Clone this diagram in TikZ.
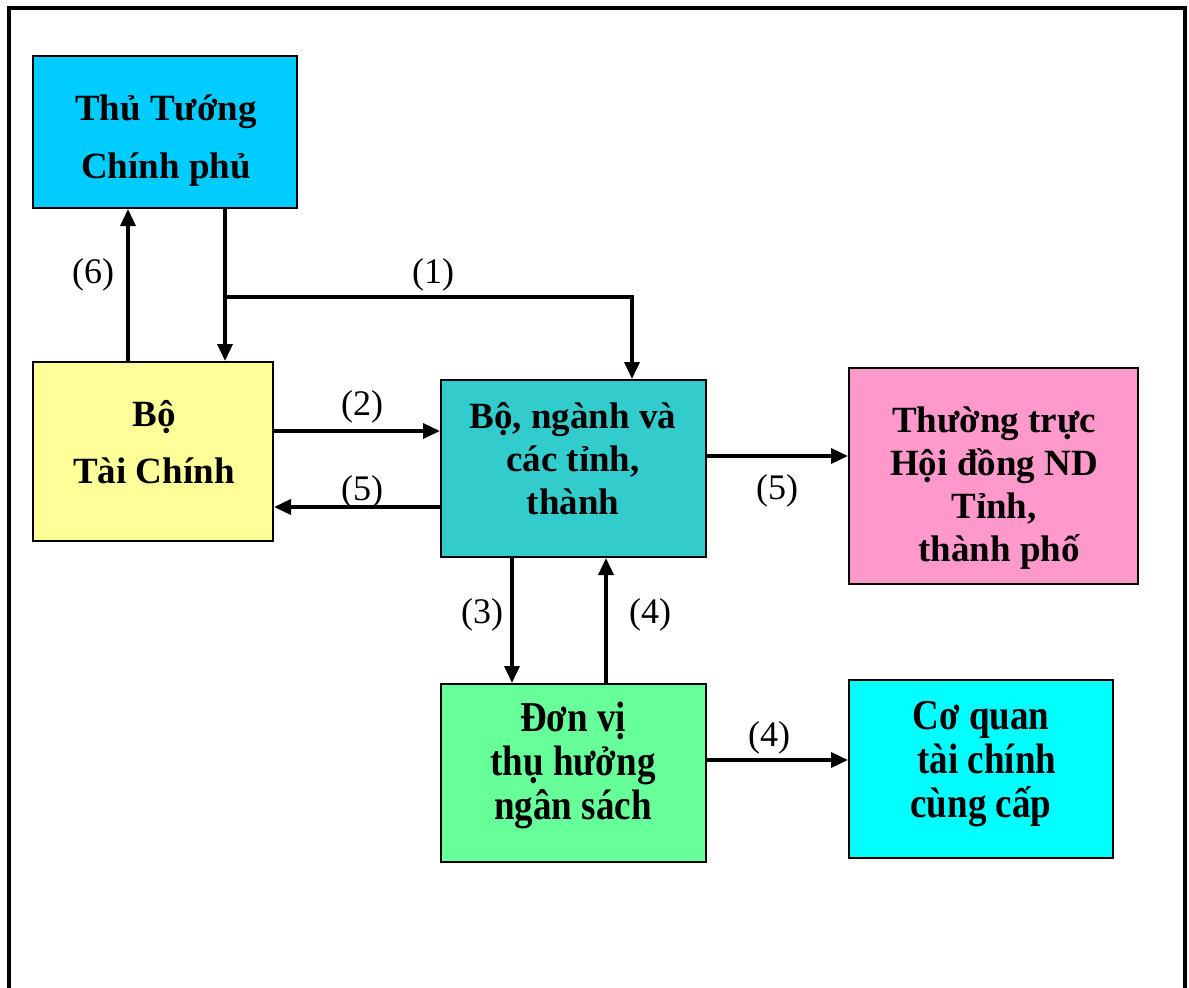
\documentclass[tikz,border=0pt]{standalone}
\usepackage{fontspec}
\setmainfont{Liberation Serif}
\newfontfamily\tallfont{Liberation Serif}[Scale=1.15, FakeStretch=0.87]
\usetikzlibrary{arrows.meta}
\definecolor{cPM}{HTML}{00CCFF}
\definecolor{cMOF}{HTML}{FFFF99}
\definecolor{cMIN}{HTML}{33CCCC}
\definecolor{cHD}{HTML}{FF99CC}
\definecolor{cDV}{HTML}{66FF99}
\definecolor{cCQ}{HTML}{00FFFF}
\tikzset{
  orgbox/.style={draw=black, line width=2pt, inner sep=0pt},
  boxtext/.style={inner sep=0pt, align=center,
    font=\fontsize{37}{43}\selectfont\bfseries},
  talltext/.style={boxtext, font=\fontsize{37}{44}\selectfont\tallfont\bfseries},
  flow/.style={line width=3.5pt, -{Triangle[length=17pt,width=15pt]}},
  tag/.style={inner sep=0pt, font=\fontsize{36}{43}\selectfont}
}
\begin{document}
\begin{tikzpicture}[x=1pt,y=-1pt]
\useasboundingbox (0,0) rectangle (1189,988);
% outer frame, open at the bottom
\draw[line width=4pt] (9,1000) -- (9,8) -- (1185,8) -- (1185,1000);

% boxes
\node[orgbox, fill=cPM, minimum width=264pt, minimum height=152pt] (pm) at (165,132) {};
\node[orgbox, fill=cMOF, minimum width=240pt, minimum height=179pt] (mof) at (153,451.5) {};
\node[orgbox, fill=cMIN, minimum width=265pt, minimum height=177pt] (min) at (573.5,468.5) {};
\node[orgbox, fill=cHD, minimum width=289pt, minimum height=216pt] (hd) at (993.5,476) {};
\node[orgbox, fill=cDV, minimum width=265pt, minimum height=178pt] (dv) at (573.5,773) {};
\node[orgbox, fill=cCQ, minimum width=264pt, minimum height=178pt] (cq) at (981,769) {};

% box texts
\node[boxtext] (pmT) at (166,141) {Thủ Tướng\\[15pt]Chính phủ};
\node[boxtext] (mofT) at (154,442) {Bộ\\[14pt]Tài Chính};
\node[boxtext] (minT) at (573,459) {Bộ, ngành và\\các tỉnh,\\thành};
\node[boxtext] (hdT) at (994,488) {Thường trực\\Hội đồng ND\\Tỉnh,\\\hspace*{10pt}thành phố};
\node[talltext] (dvT) at (573,765) {Đơn vị\\thụ hưởng\\ngân sách};
\node[talltext] (cqT) at (981,764) {Cơ quan\\\hspace*{12pt}tài chính\\cùng cấp};

% connectors
\draw[flow] ([xshift=96pt]mof.north west) -- ([xshift=96pt]pm.south west);
\draw[flow] ([xshift=193pt]pm.south west) -- ([xshift=193pt]mof.north west);
\coordinate (split) at ([xshift=193pt]pm.south west |- 0,297);
\draw[flow] (split) -| ([xshift=192pt]min.north west);
\draw[flow] ([yshift=20.5pt]mof.east) -- ([yshift=20.5pt]mof.east -| min.west);
\draw[flow] ([yshift=-38.5pt]min.west) -- ([yshift=-38.5pt]min.west -| mof.east);
\draw[flow] ([yshift=12.5pt]min.east) -- ([yshift=12.5pt]min.east -| hd.west);
\draw[flow] ([xshift=72pt]min.south west) -- ([xshift=72pt]dv.north west);
\draw[flow] ([xshift=166pt]dv.north west) -- ([xshift=166pt]min.south west);
\draw[flow] ([yshift=13pt]dv.east) -- ([yshift=13pt]dv.east -| cq.west);

% step labels
\node[tag] (l6) at (93,275) {(6)};
\node[tag] (l1) at (433,275) {(1)};
\node[tag] (l2) at (362,407) {(2)};
\node[tag] (l5a) at (362,492) {(5)};
\node[tag] (l5b) at (777,491) {(5)};
\node[tag] (l3) at (482,615) {(3)};
\node[tag] (l4a) at (650,615) {(4)};
\node[tag] (l4b) at (769,738) {(4)};
\end{tikzpicture}
\end{document}
